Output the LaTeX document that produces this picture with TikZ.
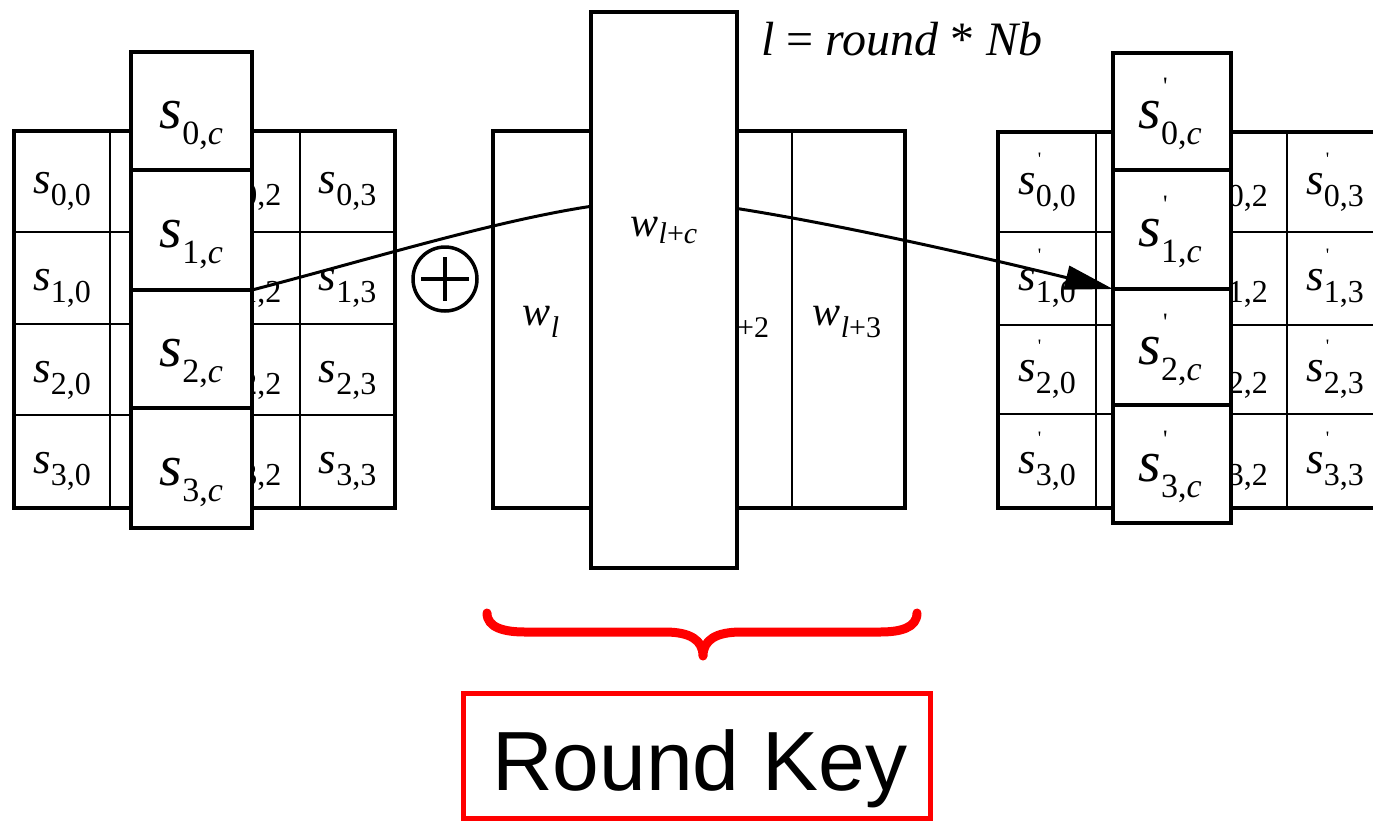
\documentclass[tikz,border=0pt]{standalone}
\usepackage{fontspec}
\setmainfont{Liberation Serif}
\newfontfamily\arialf{Liberation Sans}
\usetikzlibrary{arrows.meta}
\newcommand\sv[4]{{\fontsize{#1}{#1}\selectfont\itshape s}\raisebox{-#3}{\fontsize{#2}{#2}\selectfont #4}}
\newcommand\svp[6]{{\fontsize{#1}{#1}\selectfont\itshape s}\rlap{\kern2pt\raisebox{#5}{\fontsize{#6}{#6}\selectfont\textquotesingle}}\raisebox{-#3}{\fontsize{#2}{#2}\selectfont #4}}
\newcommand\wv[4]{{\fontsize{#1}{#1}\selectfont\itshape w}\raisebox{-#3}{\fontsize{#2}{#2}\selectfont #4}}
\begin{document}
\begin{tikzpicture}[x=1pt,y=-1pt,
  thickbox/.style={draw, line width=4pt, fill=white, inner sep=0pt, outer sep=0pt},
  thinline/.style={line width=2pt},
  thickline/.style={line width=4pt},
  txt/.style={anchor=base, inner sep=0pt}]
\useasboundingbox (0,0) rectangle (1373,820);
\clip (0,0) rectangle (1373,820);
\fill[white] (0,0) rectangle (1373,820);

% ---------- left state matrix ----------
\draw[thickline] (14,131) rectangle (395,508);
\foreach \x in {110,205,300} \draw[thinline] (\x,131) -- (\x,508);
\foreach \y in {232,324,415} \draw[thinline] (14,\y) -- (395,\y);
\foreach \r/\y in {0/193.5,1/290.5,2/382,3/473.5}{
  \node[txt] (a\r0) at (62,\y) {\sv{45pt}{32pt}{12pt}{\r,0}};
  \node[txt] (a\r2) at (252.5,\y) {\sv{45pt}{32pt}{12pt}{\r,2}};
  \node[txt] (a\r3) at (347.5,\y) {\sv{45pt}{32pt}{12pt}{\r,3}};
}
\foreach \r/\c/\h in {0/111/118,1/230/120,2/349/118,3/468/120}{
  \node[thickbox, minimum width=121pt, minimum height=\h pt] (L\r) at (191.5,\c) {};
}
\foreach \r/\y in {0/128,1/247,2/366,3/485}{
  \node[txt] (lc\r) at (191.5,\y) {\sv{58pt}{34pt}{16pt}{\r,\textit{c}}};
}

% ---------- right state matrix ----------
\draw[thickline] (998,132) rectangle (1385,508);
\foreach \x in {1096,1191,1287} \draw[thinline] (\x,132) -- (\x,508);
\foreach \y in {232,325,414} \draw[thinline] (998,\y) -- (1385,\y);
\foreach \r/\y in {0/194,1/290.5,2/381.5,3/473}{
  \node[txt] (b\r0) at (1047,\y) {\svp{45pt}{32pt}{12pt}{\r,0}{29pt}{19pt}};
  \node[txt] (b\r2) at (1239,\y) {\svp{45pt}{32pt}{12pt}{\r,2}{29pt}{19pt}};
  \node[txt] (b\r3) at (1335,\y) {\svp{45pt}{32pt}{12pt}{\r,3}{29pt}{19pt}};
}
\foreach \r/\c/\h in {0/111.5/117,1/229.5/119,2/347/116,3/464/118}{
  \node[thickbox, minimum width=118pt, minimum height=\h pt] (R\r) at (1172,\c) {};
}
\foreach \r/\y in {0/128.5,1/246.5,2/364,3/481}{
  \node[txt] (rc\r) at (1170,\y) {\svp{58pt}{34pt}{16pt}{\r,\textit{c}}{34pt}{25pt}};
}

% ---------- key words ----------
\draw[thickline] (493,131) rectangle (905,508);
\draw[thinline] (792,131) -- (792,508);
\node[txt] (wl) at (541,325) {\wv{42pt}{30pt}{12pt}{\textit{l}}};
\node[txt] (wl2) at (735,325) {\wv{42pt}{30pt}{12pt}{\textit{l}+2}};
\node[txt] (wl3) at (847,325) {\wv{42pt}{30pt}{12pt}{\textit{l}+3}};

% ---------- connector ----------
\coordinate (pk) at (664,200);
\draw[line width=3pt, -{Triangle[length=48pt,width=24pt]}]
  (L1.south east) .. controls (402,251) and (560,200) .. (pk)
  .. controls (720,202) and (880,232) .. (R1.south west);

% ---------- tall key column ----------
\node[thickbox, minimum width=146pt, minimum height=556pt] (T) at (664,290) {};
\node[txt] (wlc) at (664,236) {\wv{42pt}{30pt}{7pt}{\textit{l}+\textit{c}}};

% ---------- xor ----------
\node[draw, circle, line width=3.5pt, minimum size=64pt, inner sep=0pt] (xo) at (445,279) {};
\draw[line width=3.5pt] ([xshift=-24pt]xo.center) -- ([xshift=24pt]xo.center);
\draw[line width=3.5pt] ([yshift=22pt]xo.center) -- ([yshift=-22pt]xo.center);

% ---------- formula ----------
\node[anchor=base west, inner sep=0pt] (form) at (761,55)
  {\fontsize{48pt}{48pt}\selectfont\textit{l} = \textit{round} * \textit{Nb}};

% ---------- brace ----------
\draw[red, line width=9pt, line cap=round, line join=round]
  (487,613) .. controls (487,628) and (505,632) .. (525,632) -- (665,632)
  .. controls (690,632) and (703,640) .. (703,656)
  .. controls (703,640) and (716,632) .. (741,632) -- (880,632)
  .. controls (900,632) and (917,628) .. (917,613);

% ---------- Round Key ----------
\node[draw=red, line width=5pt, minimum width=467pt, minimum height=125pt, inner sep=0pt] (rkbox) at (696.5,755.5) {};
\node[txt] (rk) at (700,790) {\arialf\fontsize{84pt}{84pt}\selectfont Round Key};
\end{tikzpicture}
\end{document}
